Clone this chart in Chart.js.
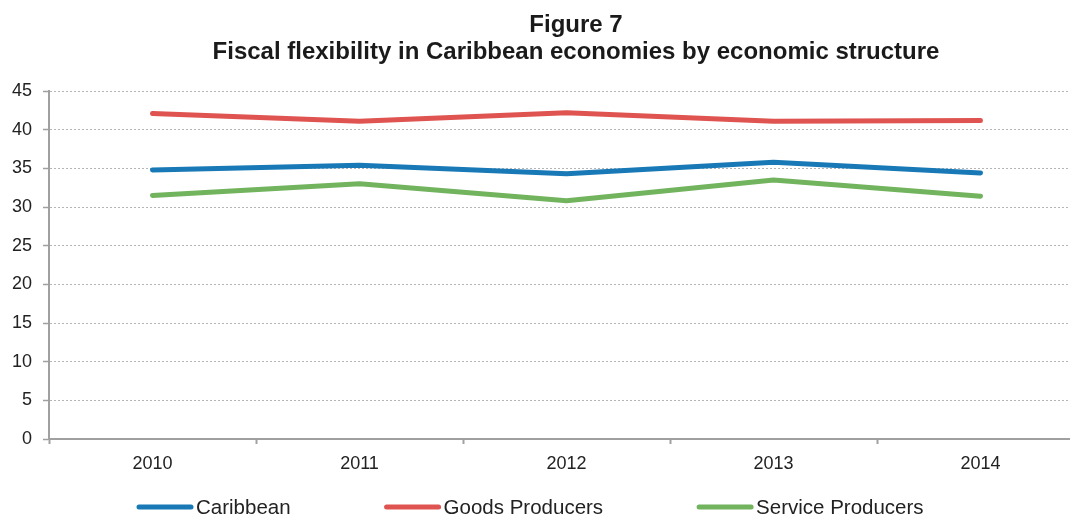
<!DOCTYPE html>
<html>
<head>
<meta charset="utf-8">
<script src="https://cdn.jsdelivr.net/npm/chart.js@4.4.1/dist/chart.umd.min.js"></script>
<style>
  html, body { margin: 0; padding: 0; overflow: hidden; background: #fff; }
  #wrap { width: 1090px; height: 516px; }
</style>
</head>
<body>
<div id="wrap"><canvas id="grafica"></canvas></div>
<script>
// Datos de la grafica
var anios = ['2010', '2011', '2012', '2013', '2014'];
var caribbean = [34.8, 35.4, 34.3, 35.8, 34.4];
var goodsProducers = [42.1, 41.1, 42.2, 41.1, 41.2];
var serviceProducers = [31.5, 33.0, 30.8, 33.5, 31.4];
var nombres = ['Caribbean', 'Goods Producers', 'Service Producers'];
var colores = ['#1879b6', '#df5450', '#72b35e'];
var titulo = ['Figure 7', 'Fiscal flexibility in Caribbean economies by economic structure'];

var fuente = '"Liberation Sans", Arial, sans-serif';

// Titulo de dos lineas
var tituloPlugin = {
    id: 'tituloFigura',
    afterDraw: function (chart) {
        var ctx = chart.ctx;
        ctx.save();
        ctx.fillStyle = '#1a1a1a';
        ctx.font = 'bold 24px ' + fuente;
        ctx.textAlign = 'center';
        ctx.textBaseline = 'alphabetic';
        ctx.fillText(titulo[0], 576, 32);
        ctx.fillText(titulo[1], 576, 59);
        ctx.restore();
    }
};

// Leyenda abajo
var leyendaPlugin = {
    id: 'leyendaFigura',
    afterDraw: function (chart) {
        var ctx = chart.ctx;
        var x = 137;
        var y = 507;
        ctx.save();
        ctx.font = '20.5px ' + fuente;
        ctx.textBaseline = 'middle';
        chart.data.datasets.forEach(function (ds) {
            ctx.strokeStyle = ds.borderColor;
            ctx.lineWidth = 5;
            ctx.lineCap = 'round';
            ctx.beginPath();
            ctx.moveTo(x + 2, y);
            ctx.lineTo(x + 54, y);
            ctx.stroke();
            ctx.fillStyle = '#222';
            ctx.fillText(ds.label, x + 59, y + 1);
            x += 59 + ctx.measureText(ds.label).width + 94;
        });
        ctx.restore();
    }
};

function serie(i, datos) {
    return {
        label: nombres[i],
        data: datos,
        borderColor: colores[i],
        backgroundColor: colores[i],
        borderWidth: 5,
        borderCapStyle: 'round',
        borderJoinStyle: 'round',
        pointRadius: 0,
        tension: 0,
        fill: false
    };
}

var config = {
    type: 'line',
    data: {
        labels: anios,
        datasets: [
            serie(0, caribbean),
            serie(1, goodsProducers),
            serie(2, serviceProducers)
        ]
    },
    options: {
        responsive: true,
        maintainAspectRatio: false,
        animation: false,
        layout: { padding: { top: 91, right: 6, bottom: 41, left: 0 } },
        plugins: {
            legend: { display: false },
            title: { display: false },
            tooltip: { enabled: false }
        },
        scales: {
            x: {
                offset: true,
                grid: {
                    offset: true,
                    drawOnChartArea: false,
                    drawTicks: true,
                    tickLength: 5,
                    tickColor: '#a0a0a0',
                    tickWidth: 2
                },
                border: { color: '#a0a0a0', width: 2 },
                ticks: {
                    color: '#222',
                    font: { family: fuente, size: 18 },
                    padding: 9,
                    maxRotation: 0
                },
                afterFit: function (scale) { scale.height = 36; }
            },
            y: {
                min: 0,
                max: 45,
                ticks: {
                    stepSize: 5,
                    color: '#222',
                    font: { family: fuente, size: 18 },
                    padding: 11
                },
                grid: {
                    color: '#b5b5b5',
                    lineWidth: 1,
                    tickLength: 6,
                    tickColor: '#a0a0a0',
                    tickWidth: 1.5
                },
                border: { color: '#a0a0a0', width: 2, dash: [2, 2] },
                afterFit: function (scale) { scale.width = 49; }
            }
        }
    },
    plugins: [tituloPlugin, leyendaPlugin]
};

window.myLine = new Chart(document.getElementById('grafica'), config);
</script>
</body>
</html>
